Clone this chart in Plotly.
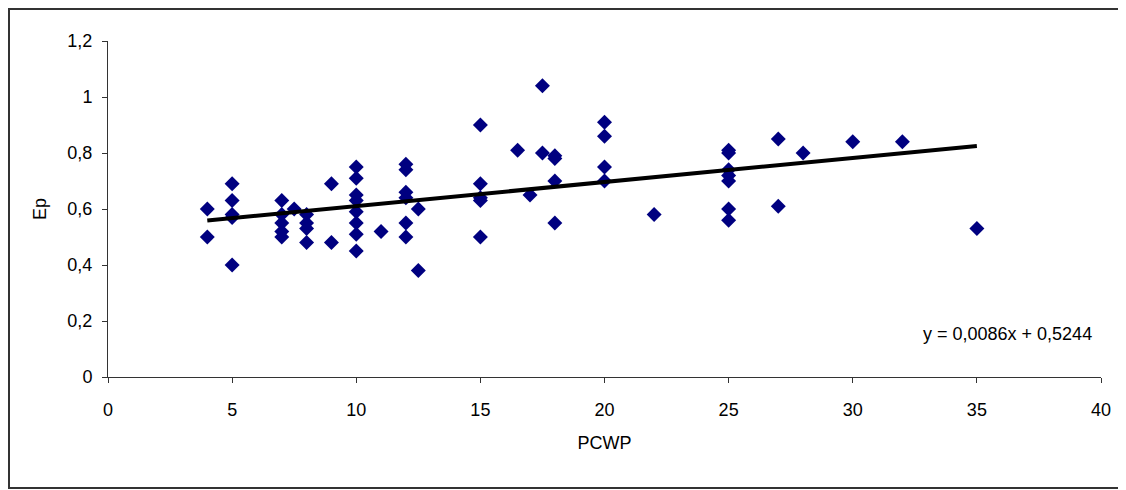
import plotly.graph_objects as go

# PCWP (x) and Ep (y) values
pcwp = [4, 4,
        5, 5, 5, 5, 5,
        7, 7, 7, 7, 7,
        7.5,
        8, 8, 8, 8,
        9, 9,
        10, 10, 10, 10, 10, 10, 10, 10,
        11,
        12, 12, 12, 12, 12, 12,
        12.5, 12.5,
        15, 15, 15, 15, 15,
        16.5,
        17,
        17.5, 17.5,
        18, 18, 18, 18,
        20, 20, 20, 20,
        22,
        25, 25, 25, 25, 25, 25, 25,
        27, 27,
        28,
        30,
        32,
        35]
ep = [0.60, 0.50,
      0.69, 0.63, 0.58, 0.57, 0.40,
      0.63, 0.58, 0.55, 0.52, 0.50,
      0.60,
      0.58, 0.55, 0.53, 0.48,
      0.69, 0.48,
      0.75, 0.71, 0.65, 0.63, 0.59, 0.55, 0.51, 0.45,
      0.52,
      0.76, 0.74, 0.66, 0.64, 0.55, 0.50,
      0.60, 0.38,
      0.90, 0.69, 0.64, 0.63, 0.50,
      0.81,
      0.65,
      1.04, 0.80,
      0.79, 0.78, 0.70, 0.55,
      0.91, 0.86, 0.75, 0.70,
      0.58,
      0.81, 0.80, 0.74, 0.72, 0.70, 0.60, 0.56,
      0.85, 0.61,
      0.80,
      0.84,
      0.84,
      0.53]

# Linear trend line end points (y = 0,0086x + 0,5244)
trend_x = [4, 35]
trend_y = [0.5588, 0.8254]
trend_label = "y = 0,0086x + 0,5244"

x_ticks = [0, 5, 10, 15, 20, 25, 30, 35, 40]
y_ticks = [0, 0.2, 0.4, 0.6, 0.8, 1.0, 1.2]
y_tick_text = ["0", "0,2", "0,4", "0,6", "0,8", "1", "1,2"]

FONT = "Liberation Sans, Arial, sans-serif"
FS = 18

fig = go.Figure()
fig.add_trace(go.Scatter(
    x=pcwp, y=ep, mode="markers",
    marker=dict(symbol="diamond", size=11.5, color="#000080",
                line=dict(width=0)),
    cliponaxis=False, showlegend=False,
))
fig.add_trace(go.Scatter(
    x=trend_x, y=trend_y, mode="lines",
    line=dict(color="black", width=4),
    showlegend=False,
))

fig.update_layout(
    width=1118, height=482,
    margin=dict(l=100, r=25, t=33, b=113),
    paper_bgcolor="white", plot_bgcolor="white",
    font=dict(family=FONT, size=FS, color="black"),
    xaxis=dict(
        range=[0, 40], tickvals=x_ticks, ticktext=[str(v) for v in x_ticks],
        showgrid=False, zeroline=False, showline=True, linecolor="#333",
        linewidth=1, ticks="outside", ticklen=5, tickcolor="#333",
        ticklabelstandoff=11,
        title=dict(text="PCWP", standoff=17, font=dict(size=FS)),
    ),
    yaxis=dict(
        range=[0, 1.2], tickvals=y_ticks, ticktext=y_tick_text,
        showgrid=False, zeroline=False, showline=True, linecolor="#333",
        linewidth=1, ticks="outside", ticklen=5, tickcolor="#333",
        ticklabelstandoff=6,
        title=dict(text="Ep", standoff=16, font=dict(size=FS)),
    ),
    annotations=[dict(
        x=0.906, y=0.128, xref="paper", yref="paper", text=trend_label,
        showarrow=False, xanchor="center", yanchor="middle",
        font=dict(size=FS),
    )],
    shapes=[dict(
        type="rect", xref="paper", yref="paper",
        x0=-0.0997, x1=1.15, y0=-0.330, y1=1.095,
        line=dict(color="#333", width=2), layer="below",
    )],
)

fig.write_html("out.html")
